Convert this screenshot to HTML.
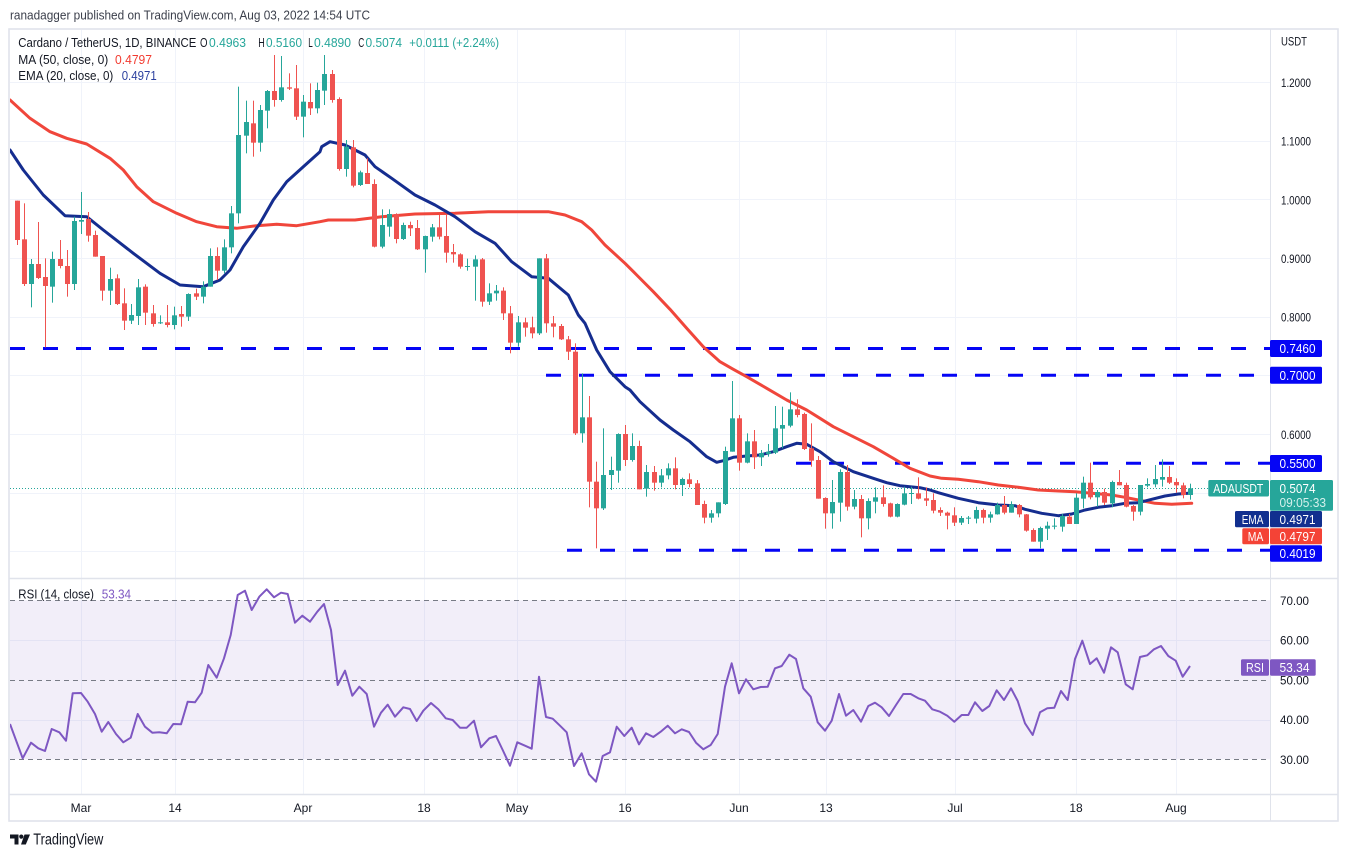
<!DOCTYPE html>
<html><head><meta charset="utf-8">
<style>
html,body{margin:0;padding:0;background:#fff;}
svg{display:block;font-family:"Liberation Sans",sans-serif;}
</style></head>
<body>
<svg id="s" xmlns="http://www.w3.org/2000/svg" width="1348" height="857" viewBox="0 0 1348 857">
<rect x="0" y="0" width="1348" height="857" fill="#fff"/>
<text x="10" y="19.5" font-size="13" fill="#3b3f4b" textLength="360" lengthAdjust="spacingAndGlyphs">ranadagger published on TradingView.com, Aug 03, 2022 14:54 UTC</text>
<defs>
<clipPath id="cm"><rect x="10" y="30" width="1260" height="548"/></clipPath>
<clipPath id="cr"><rect x="10" y="579" width="1260" height="215"/></clipPath>
</defs>
<g id="grid" stroke="#f0f3fa" stroke-width="1"></g>
<rect x="10" y="600.3" width="1260" height="159" fill="rgba(126,87,194,0.1)"/>
<g stroke="#787b86" stroke-width="1" stroke-dasharray="5 4">
<line x1="10" x2="1270" y1="600.5" y2="600.5"/>
<line x1="10" x2="1270" y1="680.5" y2="680.5"/>
<line x1="10" x2="1270" y1="759.5" y2="759.5"/>
</g>
<g stroke="#0505f5" stroke-width="3" stroke-dasharray="15 18">
<line x1="10" x2="1270" y1="348.5" y2="348.5"/>
<line x1="546" x2="1270" y1="375.3" y2="375.3"/>
<line x1="796" x2="1270" y1="463.3" y2="463.3"/>
<line x1="567" x2="1270" y1="550.2" y2="550.2"/>
</g>
<line x1="10" x2="1270" y1="488.5" y2="488.5" stroke="#26a69a" stroke-width="1" stroke-dasharray="1 2"/>
<g id="lines" clip-path="url(#cm)"></g>
<g id="candles" clip-path="url(#cm)"></g>
<g id="rsi" clip-path="url(#cr)"></g>
<g stroke="#e0e3eb" fill="none">
<rect x="9" y="29" width="1329" height="792" stroke-width="1.6"/>
<line x1="1270.5" x2="1270.5" y1="29" y2="821" stroke-width="1"/>
<line x1="9" x2="1338" y1="578.5" y2="578.5" stroke-width="1.5"/>
<line x1="9" x2="1338" y1="794.5" y2="794.5" stroke-width="1.5"/>
</g>
<g font-size="12.5">
<text x="18.3" y="47" fill="#131722" textLength="178" lengthAdjust="spacingAndGlyphs">Cardano / TetherUS, 1D, BINANCE</text>
<text x="200" y="47" fill="#131722" textLength="7.5" lengthAdjust="spacingAndGlyphs">O</text><text x="209" y="47" fill="#26a69a" textLength="37" lengthAdjust="spacingAndGlyphs">0.4963</text>
<text x="258.3" y="47" fill="#131722" textLength="6.5" lengthAdjust="spacingAndGlyphs">H</text><text x="266" y="47" fill="#26a69a" textLength="36" lengthAdjust="spacingAndGlyphs">0.5160</text>
<text x="308.3" y="47" fill="#131722" textLength="4.5" lengthAdjust="spacingAndGlyphs">L</text><text x="314" y="47" fill="#26a69a" textLength="37" lengthAdjust="spacingAndGlyphs">0.4890</text>
<text x="358.3" y="47" fill="#131722" textLength="6" lengthAdjust="spacingAndGlyphs">C</text><text x="365.5" y="47" fill="#26a69a" textLength="36.5" lengthAdjust="spacingAndGlyphs">0.5074</text>
<text x="409.3" y="47" fill="#26a69a" textLength="89.7" lengthAdjust="spacingAndGlyphs">+0.0111 (+2.24%)</text>
<text x="18.3" y="64" fill="#131722" textLength="90" lengthAdjust="spacingAndGlyphs">MA (50, close, 0)</text>
<text x="115" y="64" fill="#f23b30" textLength="37" lengthAdjust="spacingAndGlyphs">0.4797</text>
<text x="18.3" y="80" fill="#131722" textLength="95" lengthAdjust="spacingAndGlyphs">EMA (20, close, 0)</text>
<text x="121.7" y="80" fill="#2a3f9e" textLength="35" lengthAdjust="spacingAndGlyphs">0.4971</text>
<text x="18.3" y="598.5" fill="#131722" textLength="75.7" lengthAdjust="spacingAndGlyphs">RSI (14, close)</text>
<text x="101.7" y="598.5" fill="#7e57c2" textLength="29.3" lengthAdjust="spacingAndGlyphs">53.34</text>
</g>
<g font-size="12" fill="#131722">
<text x="1281" y="45.5" textLength="26" lengthAdjust="spacingAndGlyphs">USDT</text>
<text x="1281" y="87" textLength="30" lengthAdjust="spacingAndGlyphs">1.2000</text>
<text x="1281" y="145.7" textLength="30" lengthAdjust="spacingAndGlyphs">1.1000</text>
<text x="1281" y="204.3" textLength="30" lengthAdjust="spacingAndGlyphs">1.0000</text>
<text x="1281" y="263" textLength="30" lengthAdjust="spacingAndGlyphs">0.9000</text>
<text x="1281" y="321.7" textLength="30" lengthAdjust="spacingAndGlyphs">0.8000</text>
<text x="1281" y="439" textLength="30" lengthAdjust="spacingAndGlyphs">0.6000</text>
<text x="1280" y="605" textLength="29" lengthAdjust="spacingAndGlyphs">70.00</text>
<text x="1280" y="644.7" textLength="29" lengthAdjust="spacingAndGlyphs">60.00</text>
<text x="1280" y="684.5" textLength="29" lengthAdjust="spacingAndGlyphs">50.00</text>
<text x="1280" y="724.2" textLength="29" lengthAdjust="spacingAndGlyphs">40.00</text>
<text x="1280" y="764" textLength="29" lengthAdjust="spacingAndGlyphs">30.00</text>
</g>
<g font-size="12" fill="#131722" text-anchor="middle">
<text x="81" y="812">Mar</text>
<text x="175" y="812">14</text>
<text x="303" y="812">Apr</text>
<text x="424" y="812">18</text>
<text x="517" y="812">May</text>
<text x="625" y="812">16</text>
<text x="739" y="812">Jun</text>
<text x="826" y="812">13</text>
<text x="955" y="812">Jul</text>
<text x="1076" y="812">18</text>
<text x="1176" y="812">Aug</text>
</g>
<g font-size="12.5" fill="#fff">
<rect x="1270" y="340" width="52" height="17" rx="1.5" fill="#0505f5"/>
<text x="1279.5" y="353" textLength="36" lengthAdjust="spacingAndGlyphs">0.7460</text>
<rect x="1270" y="366.8" width="52" height="17" rx="1.5" fill="#0505f5"/>
<text x="1279.5" y="379.8" textLength="36" lengthAdjust="spacingAndGlyphs">0.7000</text>
<rect x="1270" y="455" width="52" height="17" rx="1.5" fill="#0505f5"/>
<text x="1279.5" y="468" textLength="36" lengthAdjust="spacingAndGlyphs">0.5500</text>
<rect x="1208.3" y="480" width="60.7" height="16.5" rx="1.5" fill="#26a69a"/>
<text x="1213.3" y="492.8" textLength="50" lengthAdjust="spacingAndGlyphs">ADAUSDT</text>
<rect x="1270" y="480" width="63" height="30.7" rx="1.5" fill="#26a69a"/>
<text x="1279.5" y="493" textLength="36" lengthAdjust="spacingAndGlyphs">0.5074</text>
<text x="1279.5" y="507" textLength="46.5" lengthAdjust="spacingAndGlyphs" fill="#d4f0ec">09:05:33</text>
<rect x="1235" y="511" width="34" height="16.3" rx="1.5" fill="#112f8f"/>
<text x="1241.7" y="523.8" textLength="21.7" lengthAdjust="spacingAndGlyphs">EMA</text>
<rect x="1270" y="511" width="52" height="16.3" rx="1.5" fill="#112f8f"/>
<text x="1279.5" y="523.8" textLength="36" lengthAdjust="spacingAndGlyphs">0.4971</text>
<rect x="1242.3" y="528.3" width="26.7" height="16" rx="1.5" fill="#f44336"/>
<text x="1247.7" y="540.8" textLength="15.6" lengthAdjust="spacingAndGlyphs">MA</text>
<rect x="1270" y="528.3" width="52" height="16" rx="1.5" fill="#f44336"/>
<text x="1279.5" y="540.8" textLength="36" lengthAdjust="spacingAndGlyphs">0.4797</text>
<rect x="1270" y="545.3" width="52" height="16.4" rx="1.5" fill="#0505f5"/>
<text x="1279.5" y="558" textLength="36" lengthAdjust="spacingAndGlyphs">0.4019</text>
<rect x="1241" y="659.3" width="28" height="16.4" rx="1.5" fill="#7e57c2"/>
<text x="1246" y="672" textLength="18" lengthAdjust="spacingAndGlyphs">RSI</text>
<rect x="1270" y="659.3" width="45.7" height="16.4" rx="1.5" fill="#7e57c2"/>
<text x="1279.5" y="672" textLength="30" lengthAdjust="spacingAndGlyphs">53.34</text>
</g>
<g fill="#131722">
<path d="M10 834.5 h8.5 v10 h-4 v-6 h-4.5 z"/>
<circle cx="21.3" cy="836.6" r="2.1"/>
<path d="M24.5 834.5 h5.5 l-4.2 10 h-4.8 z"/>
<text x="33.3" y="844.5" font-size="15.5" textLength="70" lengthAdjust="spacingAndGlyphs" fill="#131722">TradingView</text>
</g>
</svg>
<script>
(function(){
var NS='http://www.w3.org/2000/svg';
function add(p,tag,a){var e=document.createElementNS(NS,tag);for(var k in a)e.setAttribute(k,a[k]);p.appendChild(e);return e;}
var grid=document.getElementById('grid');
[82,140.7,199.3,258,316.7,375.3,434,492.7,551.3].forEach(function(y){y=Math.round(y)+0.5;add(grid,'line',{x1:10,x2:1270,y1:y,y2:y});});
[640,719.6].forEach(function(y){y=Math.round(y)+0.5;add(grid,'line',{x1:10,x2:1270,y1:y,y2:y});});
[81,175,303,424,517,625,739,826,955,1076,1176].forEach(function(x){x=Math.round(x)+0.5;add(grid,'line',{x1:x,x2:x,y1:30,y2:794});});

var A=[[0,482,615,482,600],[0,490,738,598,732],[1,657,802,672,732],[0,546,717,672,714],[0,655,922,711,738],[1,635,788,657,740],[0,600,685,657,678],[0,630,770,678,732],[1,530,750,543,732],[1,456,582,540,545],[0,516,605,537,587],[0,572,650,585,650],[0,648,782,648,752],[1,683,795,717,752],[0,703,795,715,792],[0,745,870,790,842],[1,792,852,825,842],[1,717,855,742,828],[0,733,855,740,818],[0,795,860,820,852],[1,826,852,847,850],[0,795,862,847,855],[1,800,868,826,855],[0,798,860,822,830],[1,760,843,762,830],[0,746,780,760,770],[1,724,790,740,770],[1,625,740,648,740],[0,622,720,648,692],[1,598,700,622,692],[1,498,640,520,622],[1,140,550,285,520],[1,182,340,246,287],[0,182,350,250,308],[1,195,335,210,308],[1,150,265,153,212],[0,45,200,153,180],[1,48,185,142,180],[0,100,150,142,146],[0,75,240,145,230],[1,165,292,185,230],[0,130,225,186,205],[1,128,220,150,205]];
var B=[[1,45,195,102,152],[0,90,188,102,180],[0,172,392,177,387],[1,300,410,320,387],[0,300,442,322,437],[1,392,438,397,435],[0,355,432,399,432],[0,418,622,432,620],[1,508,625,555,620],[1,508,590,522,560],[0,520,610,522,597],[1,548,600,555,597],[0,545,588,555,565],[0,540,630,564,628],[1,587,698,588,628],[1,552,605,562,590],[0,525,598,562,590],[0,525,668,588,638],[0,612,668,636,643],[0,640,686,643,680],[1,656,692,678,681],[1,646,782,658,680],[0,654,800,658,785],[1,730,795,760,785],[1,735,782,752,760],[0,742,840,752,820],[0,798,940,820,908],[1,828,920,847,908],[0,833,890,847,863],[0,830,895,862,880],[1,655,885,655,880],[0,642,878,655,850],[0,828,892,850,860],[0,852,900,858,898],[0,888,960,898,935],[0,910,1185,935,1180],[1,1000,1208,1132,1180],[0,1068,1402,1132,1325],[0,1265,1525,1325,1405],[1,1165,1410,1305,1405],[1,1250,1350,1290,1305],[1,1180,1328,1182,1292]];
var C=[[0,525,648,552,630],[1,550,635,588,630],[0,572,718,588,718],[1,645,740,666,716],[0,648,722,666,698],[1,657,712,676,698],[1,640,688,655,676],[0,622,718,655,705],[1,683,738,687,705],[0,670,712,688,702],[0,690,765,700,765],[0,752,820,762,803],[1,780,818,790,803],[1,757,802,757,790],[1,590,765,603,762],[1,393,605,505,605],[0,495,662,505,638],[1,550,640,574,638],[0,540,657,574,622],[1,600,648,609,622],[1,582,620,605,612],[1,468,612,535,608],[1,470,595,525,536],[1,427,532,478,527],[0,448,502,478,495],[0,488,600,492,597],[0,520,650,595,632],[0,618,746,630,746],[0,742,836,744,790],[1,690,836,756,790],[1,658,815,666,758],[0,645,782,666,770],[1,720,778,747,770],[0,735,862,747,805],[1,745,838,753,805],[1,712,790,742,755],[0,706,770,742,762],[0,758,802,760,800],[1,760,802,762,800],[1,710,766,730,764],[1,710,762,729,732],[0,682,748,730,746],[0,712,768,745,752]];
var D=[[0,250,310,270,302],[0,292,318,300,308],[0,305,358,308,317],[0,292,348,316,338],[1,318,345,324,338],[1,318,342,323,326],[1,290,340,300,326],[0,296,340,300,323],[1,305,338,313,323],[1,278,314,285,313],[0,258,313,285,308],[1,274,308,283,308],[0,282,322,285,313],[0,312,365,313,362],[0,355,395,360,395],[1,350,415,354,395],[1,335,390,347,356],[1,325,358,347,350],[1,312,365,318,350],[0,312,342,320,342],[1,250,342,263,342],[1,200,295,218,266],[0,158,268,218,262],[1,240,290,246,262],[0,236,285,246,278],[1,212,292,216,280],[0,180,226,216,226],[0,218,292,225,290],[0,285,332,288,305],[1,225,316,225,305],[1,205,232,222,227],[1,165,232,207,223],[1,148,230,201,209],[0,168,222,201,218],[0,205,248,216,226],[0,218,265,226,255],[1,221,269,235,255]];
var cg=document.getElementById('candles');
[[0,40,A],[43,40,B],[85,250,C],[128,410,D]].forEach(function(ch){
 var st=ch[0],oy=ch[1];
 ch[2].forEach(function(c,j){
  var i=st+j, x=Math.round(16.6+i*7.157);
  var col=c[0]?'#26a69a':'#ef5350';
  var hi=oy+c[1]/3, lo=oy+c[2]/3, bt=oy+c[3]/3, bb=oy+c[4]/3;
  add(cg,'rect',{x:x,y:hi,width:1,height:Math.max(1,lo-hi),fill:col});
  add(cg,'rect',{x:x-2,y:bt,width:5,height:Math.max(1,bb-bt),fill:col});
 });
});
function pts(list){var out=[];list.forEach(function(seg){var ox=seg[0],oy=seg[1];seg[2].forEach(function(p){out.push((ox+p[0]/3).toFixed(1)+','+(oy+p[1]/3).toFixed(1));});});return out.join(' ');}
var lg=document.getElementById('lines');
var ema=pts([[10,40,[[0,330],[40,390],[100,465],[165,527],[230,530],[280,570],[370,640],[450,700],[510,735],[580,740],[630,720],[660,690],[700,620],[750,550],[790,480],[830,425],[880,380],[930,335]]],
[315,40,[[20,320],[45,305],[90,315],[150,345],[180,380],[230,415],[300,465],[360,495],[420,530],[480,575],[540,610],[590,665],[650,710],[700,715],[760,765],[790,825],[810,850],[845,930],[885,995],[930,1040]]],
[620,250,[[30,420],[60,455],[120,510],[160,540],[210,575],[260,620],[290,637],[310,632],[340,622],[380,618],[420,615],[460,605],[500,590],[530,580],[560,583],[600,605],[640,635],[700,665],[760,685],[800,698],[840,707],[900,713],[930,720]]],
[925,410,[[40,248],[100,265],[160,278],[220,285],[270,287],[300,298],[350,310],[400,317],[440,312],[480,300],[520,292],[560,287],[600,280],[640,278],[680,268],[720,258],[760,252],[790,250]]]]);
var ma=pts([[10,40,[[0,180],[60,235],[120,275],[170,295],[230,312],[300,355],[340,390],[380,440],[430,485],[500,520],[560,545],[620,560],[680,565],[740,557],[800,553],[860,557],[930,545]]],
[315,40,[[40,540],[120,540],[200,530],[300,522],[420,520],[520,515],[640,515],[700,515],[750,525],[800,545],[830,570],[870,615],[930,670]]],
[620,250,[[50,75],[100,125],[150,178],[200,235],[250,290],[300,335],[340,358],[380,380],[440,415],[500,450],[560,480],[600,505],[640,530],[700,560],[760,590],[820,625],[870,655],[930,678]]],
[925,410,[[50,205],[100,208],[160,215],[220,225],[280,232],[340,240],[400,243],[450,245],[500,250],[560,255],[600,262],[640,270],[690,280],[740,283],[800,280]]]]);
add(lg,'polyline',{points:ma,fill:'none',stroke:'#f0463b','stroke-width':3,'stroke-linejoin':'round','stroke-linecap':'round'});
add(lg,'polyline',{points:ema,fill:'none',stroke:'#152d8f','stroke-width':3,'stroke-linejoin':'round','stroke-linecap':'round'});
var rsi=pts([[0,570,[[30,462],[68,565],[93,518],[115,535],[135,543],[155,477],[178,487],[198,512],[218,370],[243,369],[263,395],[285,432],[305,485],[325,456],[348,492],[370,517],[392,503],[413,432],[435,470],[457,488],[478,487],[500,490],[520,462],[543,463],[563,395],[585,397],[605,368],[625,285],[650,323],[672,265],[692,195],[713,75],[735,62],[755,120],[778,80],[800,58],[822,82],[843,68],[863,72],[885,158],[907,137],[930,155],[952,125],[972,102],[993,180],[1013,345],[1035,302],[1057,377],[1078,350],[1100,372],[1122,470],[1143,428],[1163,404]]],
[395,590,[[0,380],[25,352],[45,357],[65,393],[85,362],[108,339],[130,358],[152,385],[173,390],[195,413],[215,413],[237,392],[258,472],[283,445],[303,438],[323,480],[345,527],[367,457],[390,467],[410,476],[432,260],[453,381],[473,386],[495,407],[515,427],[537,528],[560,490],[582,553],[603,575],[623,498],[645,487],[665,410],[688,438],[710,413],[732,463],[753,430],[775,441],[797,425],[818,407],[840,430],[860,418],[882,426],[903,458],[925,478],[947,465],[968,432],[990,290],[1010,220],[1032,310],[1053,268],[1075,298],[1097,291],[1118,290],[1140,235],[1160,228],[1183,194],[1203,207]]],
[795,590,[[25,295],[47,320],[68,397],[90,422],[110,392],[132,312],[153,377],[175,360],[198,395],[220,348],[240,338],[260,352],[282,378],[303,345],[325,312],[347,312],[370,325],[390,332],[412,358],[435,365],[457,377],[478,395],[500,375],[520,375],[540,337],[562,363],[583,348],[605,301],[627,330],[648,295],[668,333],[690,400],[713,435],[735,367],[757,355],[778,353],[798,303],[818,330],[840,207],[862,152],[885,222],[905,205],[927,248],[948,172],[968,187],[992,283],[1013,298],[1035,201],[1057,196],[1077,178],[1098,168],[1120,198],[1142,212],[1163,260],[1185,228]]]]);
add(document.getElementById('rsi'),'polyline',{points:rsi,fill:'none',stroke:'#7e57c2','stroke-width':2,'stroke-linejoin':'round'});
})();
</script>
</body></html>
